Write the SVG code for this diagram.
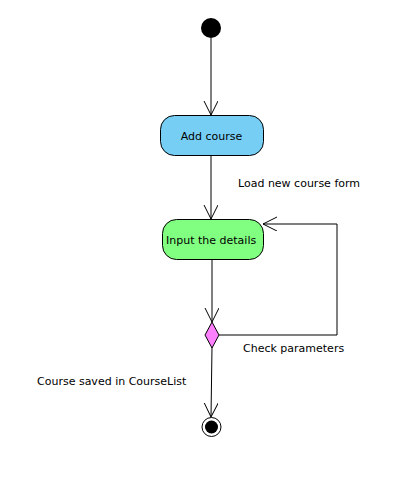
<svg xmlns="http://www.w3.org/2000/svg" width="407" height="493" viewBox="0 0 407 493">
<style>
text{font-family:"DejaVu Sans",sans-serif;font-size:11px;fill:#000}
.n{stroke:#000;stroke-width:1}
.e{fill:none;stroke:#000;stroke-width:1}
</style>
<defs>
<marker id="a" markerWidth="16" markerHeight="16" refX="14" refY="7" orient="auto" markerUnits="userSpaceOnUse">
<path d="M0,0 L14,7 L0,14" fill="none" stroke="#000" stroke-width="1"/>
</marker>
</defs>
<rect width="407" height="493" fill="#fff"/>
<g id="connectors">
<line class="e" x1="211" y1="38" x2="211" y2="115" marker-end="url(#a)"/>
<line class="e" x1="211" y1="156" x2="211" y2="219" marker-end="url(#a)"/>
<line class="e" x1="212" y1="259" x2="212" y2="322" marker-end="url(#a)"/>
<polyline class="e" points="219,335 337,335 337,224 263,224" marker-end="url(#a)"/>
<line class="e" x1="212" y1="347" x2="211" y2="417" marker-end="url(#a)"/>
<text x="238" y="187">Load new course form</text>
<text x="243" y="352">Check parameters</text>
<text x="37" y="385">Course saved in CourseList</text>
</g>
<g id="start"><circle cx="211" cy="28" r="10" fill="#000"/></g>
<g id="addCourse"><rect class="n" x="160.5" y="115.5" width="103" height="40" rx="14" fill="#77CEF5"/><text x="211.5" y="139.5" text-anchor="middle">Add course</text></g>
<g id="inputDetails"><rect class="n" x="162.5" y="219.5" width="101" height="40" rx="14" fill="#80FF80"/><text x="166" y="243.5">Input the details</text></g>
<g id="decision"><polygon class="n" points="212,322 219,335 212,348 205,335" fill="#FF80FF"/></g>
<g id="end"><circle cx="211.5" cy="427" r="9.5" fill="#fff" stroke="#000" stroke-width="1"/><circle cx="211.5" cy="427" r="6.5" fill="#000"/></g>
</svg>
